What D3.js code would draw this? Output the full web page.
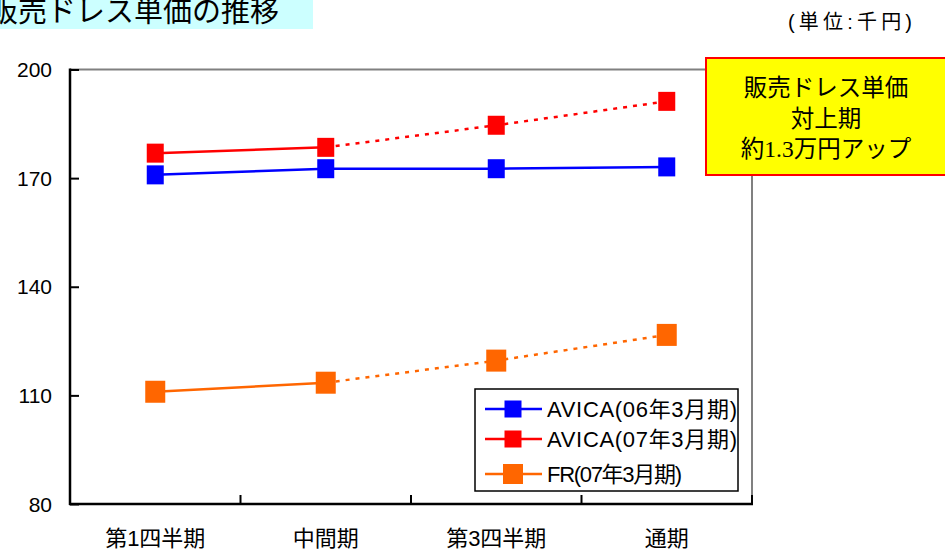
<!DOCTYPE html>
<html>
<head>
<meta charset="utf-8">
<script src="https://cdn.jsdelivr.net/npm/d3@7"></script>
<style>
  body { margin: 0; background: #fff; }
  svg { display: block; font-family: "Liberation Sans", "Noto Sans CJK JP", sans-serif; }
</style>
</head>
<body>
<svg id="chart" width="945" height="552"></svg>
<script>
// data
var categories = ['第1四半期', '中間期', '第3四半期', '通期'];
var avica06 = [170.9, 172.6, 172.6, 173.1];
var avica07 = [176.9, 178.5, 184.6, 191.2];
var fr07 = [111.0, 113.5, 119.6, 126.7];
var yTicks = [80, 110, 140, 170, 200];

var series = [
    {name: 'AVICA(06年3月期)', values: avica06, color: '#0000ff', size: 17, solidTo: 3},
    {name: 'AVICA(07年3月期)', values: avica07, color: '#ff0000', size: 17, solidTo: 1},
    {name: 'FR(07年3月期)', values: fr07, color: '#ff6600', size: 20, solidTo: 1}
];

var svg = d3.select('#chart');

var plotLeft = 70, plotRight = 752, plotTop = 69.5, plotBottom = 504;

var x = d3.scaleBand().domain(categories).range([plotLeft, plotRight]);
var y = d3.scaleLinear().domain([80, 200]).range([plotBottom, plotTop]);

// title
svg.append('rect')
    .attr('x', 0).attr('y', 0)
    .attr('width', 313).attr('height', 29)
    .attr('fill', '#ccffff');
svg.append('text')
    .attr('x', 279).attr('y', 22)
    .attr('text-anchor', 'end')
    .attr('font-size', 29)
    .text('販売ドレス単価の推移');

// unit
svg.append('text')
    .attr('x', 788).attr('y', 29)
    .attr('font-size', 20)
    .attr('textLength', 124)
    .text('(単位:千円)');

// frame: top and right in gray
svg.append('line')
    .attr('x1', plotLeft).attr('x2', plotRight).attr('y1', plotTop).attr('y2', plotTop)
    .attr('stroke', '#808080').attr('stroke-width', 2);
svg.append('line')
    .attr('x1', plotRight).attr('x2', plotRight).attr('y1', plotTop).attr('y2', plotBottom)
    .attr('stroke', '#808080').attr('stroke-width', 2);

// y axis
var yAxis = d3.axisRight(y).tickValues(yTicks).tickSize(9).tickFormat('');
var gy = svg.append('g')
    .attr('transform', 'translate(' + plotLeft + ',0)')
    .call(yAxis);
gy.select('.domain').remove();
gy.selectAll('line').attr('stroke', '#000').attr('stroke-width', 2);
svg.append('line')
    .attr('x1', plotLeft).attr('x2', plotLeft).attr('y1', plotTop - 1).attr('y2', plotBottom + 1)
    .attr('stroke', '#000').attr('stroke-width', 2.5);

svg.append('g').selectAll('text')
    .data(yTicks)
    .enter().append('text')
        .attr('x', 52)
        .attr('y', function(d) { return y(d); })
        .attr('dy', '0.36em')
        .attr('text-anchor', 'end')
        .attr('font-size', 21)
        .text(function(d) { return d; });

// x axis with ticks between categories
var bounds = categories.slice(1).map(function(c) { return x(c); }).concat([plotRight]);
svg.append('g').selectAll('line')
    .data(bounds)
    .enter().append('line')
        .attr('x1', function(d) { return d; })
        .attr('x2', function(d) { return d; })
        .attr('y1', plotBottom).attr('y2', plotBottom - 9)
        .attr('stroke', '#000').attr('stroke-width', 2);
svg.append('line')
    .attr('x1', plotLeft - 1).attr('x2', plotRight + 1).attr('y1', plotBottom).attr('y2', plotBottom)
    .attr('stroke', '#000').attr('stroke-width', 2.5);

svg.append('g').selectAll('text')
    .data(categories)
    .enter().append('text')
        .attr('x', function(d) { return x(d) + x.bandwidth() / 2; })
        .attr('y', 546)
        .attr('text-anchor', 'middle')
        .attr('font-size', 22)
        .text(function(d) { return d; });

// lines and markers
var line = d3.line()
    .x(function(d) { return x(d.cat) + x.bandwidth() / 2; })
    .y(function(d) { return y(d.v); });

series.forEach(function(s) {
    var pts = s.values.map(function(v, i) { return {cat: categories[i], v: v}; });
    var g = svg.append('g');
    g.append('path')
        .datum(pts.slice(0, s.solidTo + 1))
        .attr('d', line)
        .attr('fill', 'none')
        .attr('stroke', s.color)
        .attr('stroke-width', 2.5);
    if (s.solidTo < pts.length - 1) {
        g.append('path')
            .datum(pts.slice(s.solidTo))
            .attr('d', line)
            .attr('fill', 'none')
            .attr('stroke', s.color)
            .attr('stroke-width', 2.5)
            .attr('stroke-dasharray', '4,6');
    }
    g.selectAll('rect')
        .data(pts)
        .enter().append('rect')
            .attr('x', function(d) { return x(d.cat) + x.bandwidth() / 2 - s.size / 2; })
            .attr('y', function(d) { return y(d.v) - s.size / 2 - 1; })
            .attr('width', s.size)
            .attr('height', s.size + 2)
            .attr('fill', s.color);
});

// legend
var legend = svg.append('g');
legend.append('rect')
    .attr('x', 475).attr('y', 389)
    .attr('width', 263).attr('height', 102)
    .attr('fill', '#fff')
    .attr('stroke', '#000').attr('stroke-width', 1.5);
var legendY = [409, 439, 474];
series.forEach(function(s, i) {
    var ly = legendY[i];
    legend.append('line')
        .attr('x1', 485).attr('x2', 542).attr('y1', ly).attr('y2', ly)
        .attr('stroke', s.color).attr('stroke-width', 2.5);
    legend.append('rect')
        .attr('x', 513 - s.size / 2).attr('y', ly - s.size / 2)
        .attr('width', s.size).attr('height', s.size)
        .attr('fill', s.color);
    legend.append('text')
        .attr('x', 547).attr('y', ly)
        .attr('dy', '0.36em')
        .attr('font-size', 22)
        .attr('textLength', i == 2 ? 135 : 190)
        .text(s.name);
});

// callout box
svg.append('rect')
    .attr('x', 706).attr('y', 58)
    .attr('width', 245).attr('height', 117)
    .attr('fill', '#ffff00')
    .attr('stroke', '#ff0000').attr('stroke-width', 2);
var note = svg.append('text')
    .attr('text-anchor', 'middle')
    .attr('font-size', 23.5)
    .attr('font-family', '"Noto Sans CJK JP", sans-serif');
note.append('tspan').attr('x', 826).attr('y', 96).text('販売ドレス単価');
note.append('tspan').attr('x', 826).attr('y', 127).text('対上期');
var l3 = note.append('tspan').attr('x', 826).attr('y', 157);
l3.append('tspan').text('約');
l3.append('tspan').attr('font-family', '"Liberation Serif", serif').text('1.3');
l3.append('tspan').text('万円アップ');
</script>
</body>
</html>
